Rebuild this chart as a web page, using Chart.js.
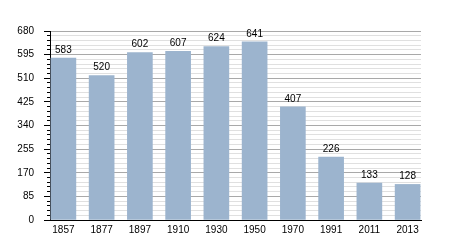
<!DOCTYPE html>
<html>
<head>
<meta charset="utf-8">
<script src="https://cdn.jsdelivr.net/npm/chart.js@4/dist/chart.umd.min.js"></script>
<style>
  html, body { margin: 0; padding: 0; background: #fff; }
  #wrap { width: 450px; height: 250px; position: relative; }
</style>
</head>
<body>
<div id="wrap"><canvas id="pop"></canvas></div>
<script>
const years = ['1857', '1877', '1897', '1910', '1930', '1950', '1970', '1991', '2011', '2013'];
const population = [583, 520, 602, 607, 624, 641, 407, 226, 133, 128];
const yMax = 680;
const majorStep = 85;
const minorStep = 17;

const FONT = '"Liberation Sans", Arial, sans-serif';
const barColor = '#9cb4ce';

const isMajor = (v) => v % majorStep === 0;

// value above each bar, placed from the bar elements
const valueLabels = {
  id: 'valueLabels',
  afterDatasetsDraw(chart) {
    const ctx = chart.ctx;
    const meta = chart.getDatasetMeta(0);
    ctx.save();
    ctx.font = '10px ' + FONT;
    ctx.fillStyle = '#000';
    ctx.textAlign = 'center';
    ctx.textBaseline = 'bottom';
    meta.data.forEach((bar, i) => {
      ctx.fillText(String(population[i]), bar.x, bar.y - 3);
    });
    ctx.restore();
  },
};

new Chart(document.getElementById('pop'), {
  type: 'bar',
  data: {
    datasets: [
      {
        data: population.map((v, i) => ({ x: i, y: v })),
        backgroundColor: barColor,
        borderWidth: 0,
        barThickness: 25,
      },
    ],
  },
  options: {
    responsive: true,
    maintainAspectRatio: false,
    animation: false,
    layout: { padding: { left: 14, right: 29, top: 31, bottom: 0 } },
    plugins: {
      legend: { display: false },
      tooltip: { enabled: false },
    },
    scales: {
      x: {
        type: 'linear',
        min: -0.35,
        max: 9.35,
        offset: false,
        afterBuildTicks: (axis) => {
          axis.ticks = years.map((_, i) => ({ value: i }));
        },
        afterFit: (axis) => { axis.height = 30; },
        grid: { display: false, drawTicks: false },
        border: { display: true, color: '#000', width: 1 },
        ticks: {
          autoSkip: false,
          maxRotation: 0,
          padding: 4,
          color: '#000',
          font: { family: FONT, size: 10 },
          callback: (v) => years[v] ?? '',
        },
      },
      y: {
        position: 'left',
        min: 0,
        max: yMax,
        afterFit: (axis) => { axis.width = 36; },
        border: { display: true, color: '#000', width: 1 },
        grid: {
          tickLength: 6,
          color: (c) => {
            const v = c.tick.value;
            if (v === 0) return 'rgba(0,0,0,0)';
            return isMajor(v) ? '#a9a9a9' : '#e0e0e0';
          },
          tickColor: '#000',
          tickBorderDash: (c) => (isMajor(c.tick.value) ? [] : [0, 3, 3, 0]),
        },
        ticks: {
          stepSize: minorStep,
          autoSkip: false,
          padding: 10,
          color: '#000',
          font: { family: FONT, size: 10 },
          callback: (v) => (isMajor(v) ? String(v) : ''),
        },
      },
    },
  },
  plugins: [valueLabels],
});
</script>
</body>
</html>
